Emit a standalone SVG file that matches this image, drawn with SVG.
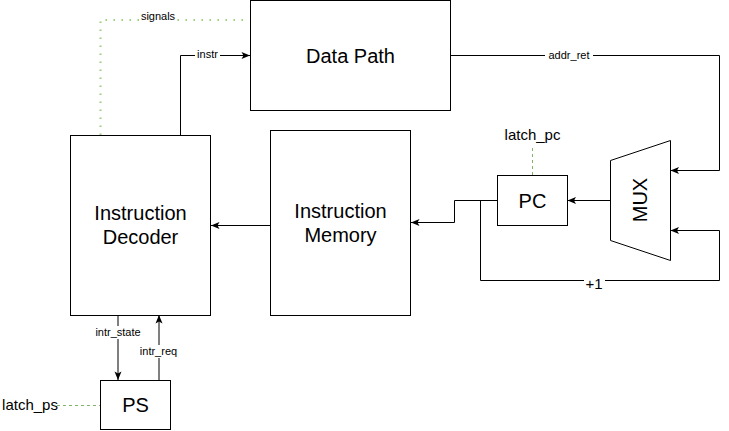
<svg xmlns="http://www.w3.org/2000/svg" width="729" height="431" viewBox="0 0 729 431">
<defs>
<style>
.box{fill:#fff;stroke:#000;stroke-width:1}
.big{font-family:"Liberation Sans",Arial,sans-serif;font-size:20px;fill:#000;text-anchor:middle}
.mid{font-family:"Liberation Sans",Arial,sans-serif;font-size:15px;fill:#000;text-anchor:middle}
.lbl{font-family:"Liberation Sans",Arial,sans-serif;font-size:11px;fill:#000;text-anchor:middle}
.wire{fill:none;stroke:#000;stroke-width:1}
.sig{fill:none;stroke:#97d077;stroke-width:2;stroke-dasharray:1.5 6.5}
.latch{fill:none;stroke:#82b366;stroke-width:1;stroke-dasharray:3 3}
.bg{fill:#fff}
</style>
<marker id="arr" viewBox="0 0 10 8" refX="9.5" refY="4" markerWidth="10" markerHeight="8" markerUnits="userSpaceOnUse" orient="auto">
<path d="M1,0.5 L9.5,4 L1,7.5 L3,4 Z" fill="#000"/>
</marker>
</defs>
<rect width="729" height="431" fill="#fff"/>

<g id="connectors">
<path class="sig" d="M100.5,135 V20 H248"/>
<path class="wire" d="M180.5,135 V55.5 H250" marker-end="url(#arr)"/>
<path class="wire" d="M450,55.5 H719.5 V170.5 H670.5" marker-end="url(#arr)"/>
<path class="wire" d="M610.5,200.5 H567.5" marker-end="url(#arr)"/>
<path class="wire" d="M497,200.5 H454.5 V222.5 H411" marker-end="url(#arr)"/>
<path class="wire" d="M480.5,200.5 V280.5 H719.5 V230.5 H670.5" marker-end="url(#arr)"/>
<path class="wire" d="M270,225.5 H211" marker-end="url(#arr)"/>
<path class="wire" d="M118,315 V380" marker-end="url(#arr)"/>
<path class="wire" d="M159,380 V315" marker-end="url(#arr)"/>
<path class="latch" d="M57,405.5 H100"/>
<path class="latch" d="M532.5,148 V175"/>
<rect class="bg" x="139" y="12" width="38" height="13"/>
<text class="lbl" x="158" y="20">signals</text>
<rect class="bg" x="195" y="49" width="25" height="13"/>
<text class="lbl" x="207.5" y="58">instr</text>
<rect class="bg" x="545" y="49" width="48" height="13"/>
<text class="lbl" x="569" y="59">addr_ret</text>
<rect class="bg" x="584" y="273" width="21" height="16"/>
<text class="mid" x="594" y="289">+1</text>
<rect class="bg" x="95" y="326" width="47" height="13"/>
<text class="lbl" x="118" y="336">intr_state</text>
<rect class="bg" x="139" y="345" width="40" height="13"/>
<text class="lbl" x="158.5" y="355">intr_req</text>
</g>

<g id="data-path">
<rect class="box" x="250.5" y="0.5" width="200" height="110"/>
<text class="big" x="350.5" y="62.5">Data Path</text>
</g>

<g id="instruction-decoder">
<rect class="box" x="70.5" y="135.5" width="140" height="180"/>
<text class="big" x="140.5" y="220">Instruction</text>
<text class="big" x="140.5" y="244">Decoder</text>
</g>

<g id="instruction-memory">
<rect class="box" x="270.5" y="130.5" width="140" height="185"/>
<text class="big" x="340.5" y="217.5">Instruction</text>
<text class="big" x="340.5" y="241.5">Memory</text>
</g>

<g id="pc">
<rect class="box" x="497.5" y="175.5" width="70" height="50"/>
<text class="big" x="532.5" y="207.5">PC</text>
</g>

<g id="latch-pc">
<text class="mid" x="532.5" y="140">latch_pc</text>
</g>

<g id="mux">
<path class="box" d="M610.5,160.5 L670.5,140.5 L670.5,260.5 L610.5,240.5 Z"/>
<text class="big" x="640" y="207.2" transform="rotate(-90 640 200)">MUX</text>
</g>

<g id="ps">
<rect class="box" x="100.5" y="380.5" width="70" height="49"/>
<text class="big" x="135.5" y="412">PS</text>
</g>

<g id="latch-ps">
<text class="mid" x="30" y="410">latch_ps</text>
</g>
</svg>
